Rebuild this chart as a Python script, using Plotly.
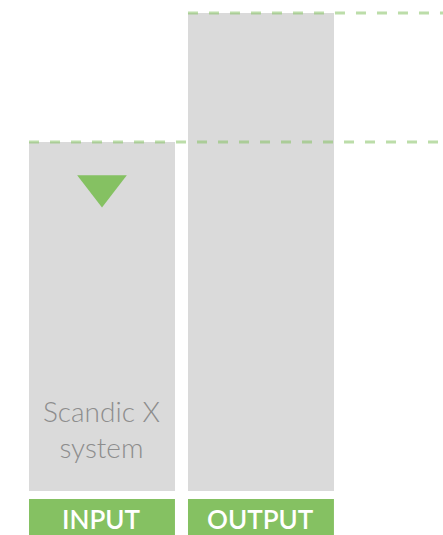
import plotly.graph_objects as go

categories = ["INPUT", "OUTPUT"]
values = [73.0, 100.0]
bar_text = ["Scandic X<br>system", ""]

GRAY = "#dadada"
GREEN = "#85c162"
LINE = "rgba(133,193,98,0.55)"
W = 0.918

xs = list(range(len(categories)))
y_top = 102.72
y_bot = -9.205

fig = go.Figure()
fig.add_trace(go.Bar(x=xs, y=values, width=W, marker=dict(color=GRAY, line=dict(width=0)),
                     hoverinfo="skip", showlegend=False))
# triangle marker inside input bar
fig.add_trace(go.Scatter(x=[0], y=[63.8], mode="markers",
                         marker=dict(symbol="triangle-down", size=43, color=GREEN, line=dict(width=0)),
                         hoverinfo="skip", showlegend=False))

shapes = []
annotations = []
for i, (c, v, t) in enumerate(zip(categories, values, bar_text)):
    shapes.append(dict(type="line", xref="x", yref="y", x0=i - W / 2, x1=2.2, y0=v, y1=v,
                       line=dict(color=LINE, width=3, dash="10px,11px"), layer="above"))
    shapes.append(dict(type="rect", xref="x", yref="y", x0=i - W / 2, x1=i + W / 2,
                       y0=-1.674, y1=y_bot - 1, fillcolor=GREEN, line=dict(width=0), layer="above"))
    annotations.append(dict(x=i, y=-5.8, xref="x", yref="y", text=c, showarrow=False,
                            font=dict(family="Lato", size=26, color="white", weight=600)))
    if t:
        annotations.append(dict(x=i, y=13.0, xref="x", yref="y", text=t, showarrow=False,
                                font=dict(family="Lato", size=28, color="#8d8d8d", weight=300)))

fig.update_layout(
    width=443, height=535,
    margin=dict(l=0, r=0, t=0, b=0),
    paper_bgcolor="white", plot_bgcolor="white",
    xaxis=dict(range=[-0.6415, 2.145], visible=False, fixedrange=True),
    yaxis=dict(range=[y_bot, y_top], visible=False, fixedrange=True),
    shapes=shapes, annotations=annotations,
    bargap=0,
)
fig.write_html("out.html", config={"displayModeBar": False},
               post_script="document.body.style.margin='0px';document.body.style.overflow='hidden';")
